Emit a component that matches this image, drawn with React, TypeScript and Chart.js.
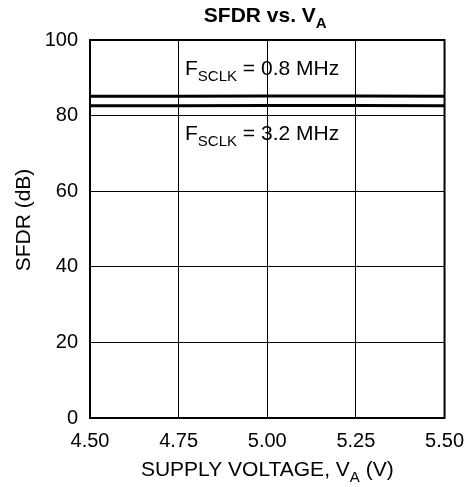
import { useEffect, useRef } from 'react';
import { Chart, registerables } from 'chart.js';
import type { Plugin } from 'chart.js';

Chart.register(...registerables);

// supply voltage (V) and SFDR (dB)
const voltages = [4.5, 4.75, 5.0, 5.25, 5.5];
const sfdrSlow = [85.1, 85.1, 85.2, 85.2, 85.1]; // FSCLK = 0.8 MHz
const sfdrFast = [82.6, 82.6, 82.7, 82.7, 82.6]; // FSCLK = 3.2 MHz

const FONT = '"Liberation Sans", Arial, Helvetica, sans-serif';

type Seg = { t: string; sub?: boolean };

function drawRich(
  ctx: CanvasRenderingContext2D,
  segs: Seg[],
  x: number,
  y: number,
  size: number,
  bold: boolean,
  align: 'left' | 'center',
) {
  const font = (sub?: boolean) =>
    `${bold ? 'bold ' : ''}${sub ? Math.round(size * 0.72) : size}px ${FONT}`;
  let w = 0;
  for (const s of segs) {
    ctx.font = font(s.sub);
    w += ctx.measureText(s.t).width;
  }
  let cx = align === 'center' ? x - w / 2 : x;
  ctx.textAlign = 'left';
  ctx.textBaseline = 'alphabetic';
  for (const s of segs) {
    ctx.font = font(s.sub);
    ctx.fillText(s.t, cx, s.sub ? y + size * 0.3 : y);
    cx += ctx.measureText(s.t).width;
  }
}

const labels: Plugin<'line'> = {
  id: 'labels',
  afterDraw(chart) {
    const { ctx, chartArea: a, scales } = chart;
    const midX = (a.left + a.right) / 2;
    ctx.save();
    ctx.fillStyle = '#000';

    // frame
    ctx.strokeStyle = '#000';
    ctx.lineWidth = 2;
    ctx.strokeRect(a.left, a.top, a.right - a.left, a.bottom - a.top);

    drawRich(ctx, [{ t: 'SFDR vs. V' }, { t: 'A', sub: true }], midX - 2, 22, 21, true, 'center');
    drawRich(
      ctx,
      [{ t: 'SUPPLY VOLTAGE, V' }, { t: 'A', sub: true }, { t: ' (V)' }],
      midX,
      476,
      21,
      false,
      'center',
    );

    ctx.save();
    ctx.translate(30, (a.top + a.bottom) / 2 - 9);
    ctx.rotate(-Math.PI / 2);
    drawRich(ctx, [{ t: 'SFDR (dB)' }], 0, 0, 21, false, 'center');
    ctx.restore();

    const x = scales.x.getPixelForValue(4.768);
    drawRich(
      ctx,
      [{ t: 'F' }, { t: 'SCLK', sub: true }, { t: ' = 0.8 MHz' }],
      x,
      scales.y.getPixelForValue(90.7),
      21,
      false,
      'left',
    );
    drawRich(
      ctx,
      [{ t: 'F' }, { t: 'SCLK', sub: true }, { t: ' = 3.2 MHz' }],
      x,
      scales.y.getPixelForValue(73.5),
      21,
      false,
      'left',
    );
    ctx.restore();
  },
};

export default function App() {
  const canvasRef = useRef<HTMLCanvasElement>(null);

  useEffect(() => {
    if (!canvasRef.current) return;
    const line = (data: number[]) => ({
      data: voltages.map((v, i) => ({ x: v, y: data[i] })),
      borderColor: '#000',
      borderWidth: 3,
      pointRadius: 0,
      fill: false,
      tension: 0,
    });

    const chart = new Chart(canvasRef.current, {
      type: 'line',
      data: { datasets: [line(sfdrSlow), line(sfdrFast)] },
      options: {
        animation: false,
        responsive: false,
        devicePixelRatio: 1,
        layout: { padding: { left: 0, top: 40, right: 27, bottom: 0 } },
        plugins: { legend: { display: false }, tooltip: { enabled: false } },
        scales: {
          x: {
            type: 'linear',
            min: 4.5,
            max: 5.5,
            afterFit: (s) => { s.height = 69; },
            ticks: {
              stepSize: 0.25,
              padding: 11,
              color: '#000',
              font: { family: FONT, size: 20 },
              callback: (v) => Number(v).toFixed(2),
            },
            grid: { color: '#000', lineWidth: 1, drawTicks: false },
            border: { color: '#000', width: 2 },
          },
          y: {
            min: 0,
            max: 100,
            afterFit: (s) => { s.width = 90; },
            ticks: {
              stepSize: 20,
              padding: 12,
              color: '#000',
              font: { family: FONT, size: 20 },
            },
            grid: { color: '#000', lineWidth: 1, drawTicks: false },
            border: { color: '#000', width: 2 },
          },
        },
      },
      plugins: [labels],
    });

    return () => chart.destroy();
  }, []);

  return (
    <div style={{ position: 'absolute', left: 0, top: 0, width: 475, height: 487, background: '#fff' }}>
      <canvas ref={canvasRef} width={475} height={487} />
    </div>
  );
}
